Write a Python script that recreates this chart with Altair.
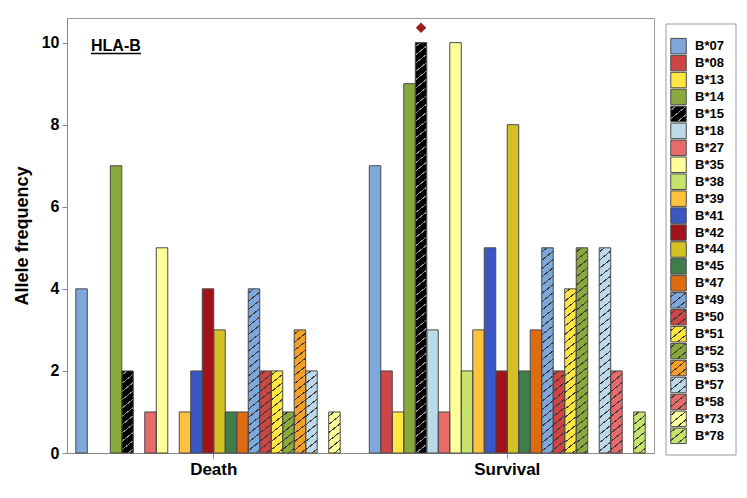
import altair as alt
import pandas as pd

# ---------------- data ----------------
alleles = ["B*07", "B*08", "B*13", "B*14", "B*15", "B*18", "B*27", "B*35",
           "B*38", "B*39", "B*41", "B*42", "B*44", "B*45", "B*47", "B*49",
           "B*50", "B*51", "B*52", "B*53", "B*57", "B*58", "B*73", "B*78"]
groups = ["Death", "Survival"]
death = [4, 0, 0, 7, 2, 0, 1, 5, 0, 1, 2, 4, 3, 1, 1, 4, 2, 2, 1, 3, 2, 0, 1, 0]
survival = [7, 2, 1, 9, 10, 3, 1, 10, 2, 3, 5, 2, 8, 2, 3, 5, 2, 4, 5, 0, 5, 2, 0, 1]
colors = ["#7ea8dc", "#cf4545", "#ffe640", "#8aa93c", "#000000", "#bcd9e9",
          "#e86b6b", "#ffff99", "#c6e46c", "#ffc23f", "#3a57c4", "#a1121a",
          "#d4c224", "#3f7d4a", "#dc6b12", "#7ea8dc", "#cf4545", "#ffe640",
          "#8aa93c", "#f7a024", "#bcd9e9", "#e86b6b", "#ffff99", "#c6e46c"]
hatched = [False, False, False, False, True, False, False, False, False, False,
           False, False, False, False, False, True, True, True, True, True,
           True, True, True, True]
y_ticks = [0, 2, 4, 6, 8, 10]
y_max = 10.6
marker_group = "Survival"
marker_allele = "B*15"
marker_value = 10.36
panel_label = "HLA-B"

# ---------------- layout / style ----------------
FONT = "Liberation Sans"
W, H = 587, 435
PAD_IN, PAD_OUT = 0.06, 0.03
OUTLINE = "#4a4a4a"
FRAME = "#9a9a9a"
HATCH_DARK = "#3a3a3a"
HATCH_LIGHT = "#8c8c8c"

bar_w = W * (1 - PAD_IN) / (len(groups) - PAD_IN + 2 * PAD_OUT) / len(alleles)
px_per_unit = H / y_max


def hatch_gradient(w, h, color, spacing=8.3, k=0.8, lw=1.3):
    """Diagonal stripes (slope k) as a linear gradient in bounding-box units."""
    L = k * w + h
    s = L / (k * k * w * w + h * h)
    e = (lw / 2) / L
    stops = []
    c = spacing / 2
    while c < L:
        t = c / L
        a, b = max(0.0, t - e), min(1.0, t + e)
        stops += [
            {"offset": a, "color": "rgba(0,0,0,0)"},
            {"offset": a, "color": color},
            {"offset": b, "color": color},
            {"offset": b, "color": "rgba(0,0,0,0)"},
        ]
        c += spacing
    return {"gradient": "linear", "x1": 0, "y1": 0,
            "x2": s * k * w, "y2": s * h, "stops": stops}


rows = []
for gname, vals in zip(groups, [death, survival]):
    for a, v, c, hch in zip(alleles, vals, colors, hatched):
        rows.append({"group": gname, "allele": a, "value": v, "hatched": hch,
                     "hatch_color": HATCH_LIGHT if c == "#000000" else HATCH_DARK})
df = pd.DataFrame(rows)
df = df[df["value"] > 0]

x_enc = alt.X("group:N",
              scale=alt.Scale(domain=groups, paddingInner=PAD_IN, paddingOuter=PAD_OUT),
              axis=alt.Axis(title=None, labelAngle=0, labelFontSize=17, grid=False,
                            labelFontWeight="bold", tickSize=5, labelPadding=3))
xo_enc = alt.XOffset("allele:N", scale=alt.Scale(domain=alleles, paddingInner=0, paddingOuter=0))
y_enc = alt.Y("value:Q",
              scale=alt.Scale(domain=[0, y_max], nice=False),
              axis=alt.Axis(title="Allele frequency", values=y_ticks, tickSize=5, grid=False,
                            labelPadding=3, labelFontSize=16, labelFontWeight="bold",
                            titleFontSize=18, titleFontWeight="bold", titlePadding=10))
fill_enc = alt.Fill("allele:N", scale=alt.Scale(domain=alleles, range=colors), legend=None)

base = alt.Chart(df)
layers = [base.mark_bar(strokeWidth=0).encode(x=x_enc, xOffset=xo_enc, y=y_enc, fill=fill_enc)]

hdf = df[df["hatched"]]
for (v, hc), _ in hdf.groupby(["value", "hatch_color"]):
    grad = hatch_gradient(bar_w, v * px_per_unit, hc)
    layers.append(
        base.transform_filter(
            f"datum.hatched && datum.value == {v} && datum.hatch_color == '{hc}'"
        ).mark_bar(fill=grad, strokeWidth=0).encode(x=x_enc, xOffset=xo_enc, y=y_enc)
    )

layers.append(base.mark_bar(fillOpacity=0, stroke=OUTLINE, strokeWidth=1)
              .encode(x=x_enc, xOffset=xo_enc, y=y_enc))

mdf = pd.DataFrame({"group": [marker_group], "allele": [marker_allele], "value": [marker_value]})
layers.append(alt.Chart(mdf).mark_point(shape="diamond", filled=True, color="#9b1b1e",
                                        size=110, opacity=1)
              .encode(x=x_enc, xOffset=xo_enc, y=y_enc))

tdf = pd.DataFrame({"label": [panel_label]})
layers.append(alt.Chart(tdf).mark_text(align="left", baseline="alphabetic", fontSize=16,
                                       fontWeight="bold", font=FONT, color="black")
              .encode(x=alt.value(24), y=alt.value(33), text="label:N"))
layers.append(alt.Chart(tdf).mark_rule(color="black", strokeWidth=1.5)
              .encode(x=alt.value(24), x2=alt.value(74), y=alt.value(35.5)))

main = alt.layer(*layers).properties(
    width=W, height=H, view=alt.ViewBackground(stroke=FRAME, strokeWidth=1))

# ---------------- custom legend ----------------
ldf = pd.DataFrame({"allele": alleles, "hatched": hatched,
                    "hatch_color": [HATCH_LIGHT if c == "#000000" else HATCH_DARK for c in colors]})
LH = 437
SQ = 15.5
ly = alt.Y("allele:N", scale=alt.Scale(type="point", domain=alleles, range=[19.7, 426.3]), axis=None)
frame_df = pd.DataFrame({"k": [0]})
leg_layers = [
    alt.Chart(frame_df).mark_rect(fill="white", stroke=FRAME, strokeWidth=1)
    .encode(x=alt.value(0), x2=alt.value(70), y=alt.value(6), y2=alt.value(LH)),
    alt.Chart(ldf).mark_square(size=SQ * SQ, opacity=1, strokeWidth=0)
    .encode(y=ly, x=alt.value(12.5), fill=fill_enc),
]
for hc in [HATCH_DARK, HATCH_LIGHT]:
    leg_layers.append(
        alt.Chart(ldf).transform_filter(f"datum.hatched && datum.hatch_color == '{hc}'")
        .mark_square(size=SQ * SQ, opacity=1, strokeWidth=0, fill=hatch_gradient(SQ, SQ, hc))
        .encode(y=ly, x=alt.value(12.5))
    )
leg_layers.append(
    alt.Chart(ldf).mark_square(size=SQ * SQ, fillOpacity=0, stroke=OUTLINE, strokeWidth=1)
    .encode(y=ly, x=alt.value(12.5))
)
leg_layers.append(
    alt.Chart(ldf).mark_text(align="left", baseline="middle", fontSize=13, fontWeight="bold",
                             font=FONT, color="black")
    .encode(y=ly, x=alt.value(29), text="allele:N")
)
legend = alt.layer(*leg_layers).properties(
    width=72, height=LH, view=alt.ViewBackground(strokeOpacity=0))

chart = alt.hconcat(main, legend, spacing=10).properties(
    padding={"left": 4, "top": 9, "right": 0, "bottom": 0}
).configure_axis(
    labelFont=FONT, titleFont=FONT, labelColor="black", titleColor="black",
    domainColor=FRAME, tickColor=FRAME, grid=False
).configure(background="white")

chart.save("out.html", embed_options={"renderer": "svg", "actions": False})
